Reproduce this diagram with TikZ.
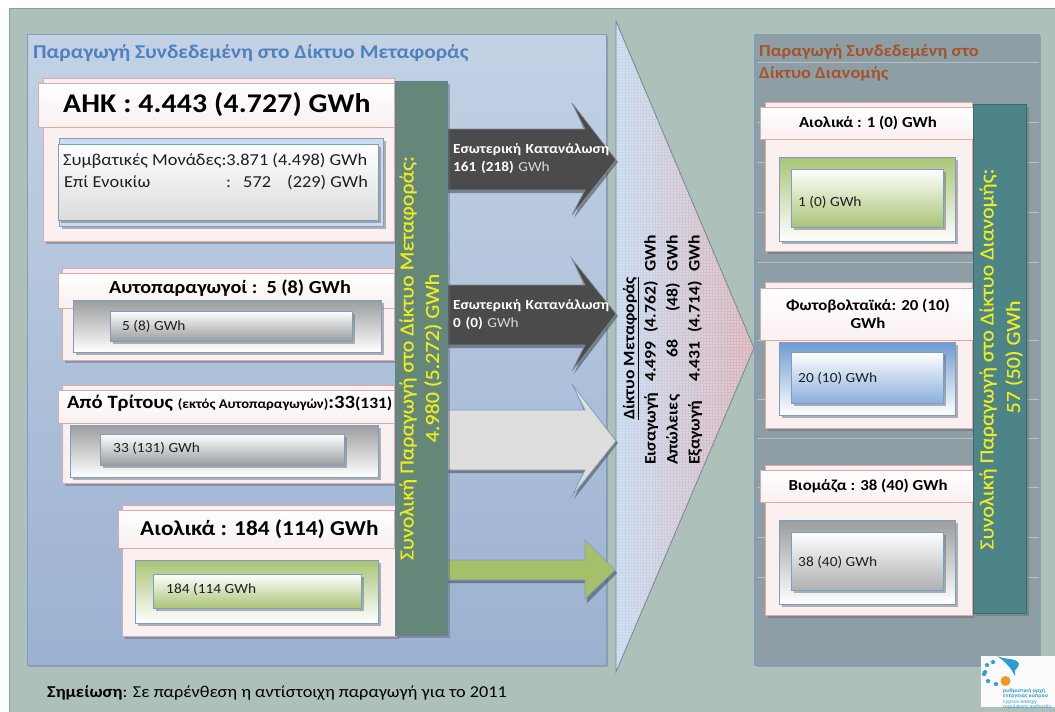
\documentclass[tikz,border=0pt]{standalone}
\usepackage{fontspec}
\setmainfont{Carlito}[FakeStretch=1.1]
\usetikzlibrary{patterns.meta,shapes.geometric}
\definecolor{bgc}{HTML}{ADC1BA}
\definecolor{edgeb}{HTML}{7F9DBF}
\definecolor{lefttop}{HTML}{C3D2E5}
\definecolor{leftbot}{HTML}{9CB1D1}
\definecolor{rightp}{HTML}{8D9FA5}
\definecolor{rosef}{HTML}{FAF0F0}
\definecolor{rosee}{HTML}{E0A9A9}
\definecolor{shad}{HTML}{7D8A96}
\definecolor{barl}{HTML}{65877A}
\definecolor{barr}{HTML}{4D8487}
\definecolor{yel}{HTML}{EDEC1E}
\definecolor{greyd}{HTML}{9A9C9E}
\definecolor{greenb}{HTML}{A9C476}
\definecolor{blueb}{HTML}{6E9BD3}
\definecolor{titleb}{HTML}{4F81BD}
\definecolor{titler}{HTML}{A5522B}
\definecolor{darka}{HTML}{4B4B4B}
\definecolor{lighta}{HTML}{DEDEDC}
\definecolor{greena}{HTML}{A5C069}
\definecolor{triL}{HTML}{C6D9EF}
\definecolor{triM}{HTML}{D3CEDF}
\definecolor{triR}{HTML}{D9B3B9}
\definecolor{logob}{HTML}{2E9BD6}
\definecolor{logoo}{HTML}{EE9A25}
\newcommand{\shadowed}[5]{%
  \fill[shad!80!black,opacity=.5] (#1+2.5,#2+2.5) rectangle (#3+2.5,#4+2.5);
  \draw[#5] (#1,#2) rectangle (#3,#4);}
\newcommand{\ls}[2]{{\addfontfeature{LetterSpace=#1}#2}}
\tikzset{
  outerbox/.style={fill=rosef,draw=rosee,line width=.8pt},
  headbox/.style={top color=white,bottom color=rosef,draw=rosee,line width=.8pt},
  thinblue/.style={draw=edgeb,line width=.8pt},
  txt/.style={inner sep=0pt,anchor=west,text=black!88},
  barlabel/.style={inner sep=0pt,rotate=90,text=yel,font=\fontsize{20}{21}\selectfont\addfontfeature{FakeBold=0.4},align=center},
  trilabel/.style={inner sep=0pt,rotate=90,anchor=west,font=\fontsize{16}{17}\selectfont\bfseries,text=black},
  arrowlabel/.style={inner sep=0pt,anchor=west,text=white,font=\fontsize{13.9}{18}\selectfont\bfseries},
  bigarrow/.style={draw=#1,line width=.7pt},
}
\begin{document}
\begin{tikzpicture}[x=1pt,y=-1pt]
\useasboundingbox (0,0) rectangle (1055,712);
\fill[white] (0,0) rectangle (1055,712);
% background
\fill[bgc] (9,8) rectangle (1055,712);
\draw[edgeb,line width=.8pt] (9,712) -- (9,8) -- (1055,8);
% left panel
\fill[shad,opacity=.6] (29,36) rectangle (608,667);
\draw[edgeb,line width=.8pt,top color=lefttop,bottom color=leftbot] (27,34) rectangle (606,665);
\node[inner sep=0pt,anchor=west,text=titleb,font=\fontsize{19.5}{20}\selectfont\bfseries] (lefttitle) at (33,53) {Παραγωγή Συνδεδεμένη στο Δίκτυο Μεταφοράς};
% right panel
\fill[shad,opacity=.6] (757,36) rectangle (1041,667);
\draw[edgeb,line width=.8pt,fill=rightp] (754,34) rectangle (1039,665);
\draw[edgeb,line width=.6pt] (757,34) -- (757,665);
\foreach \yy in {62,122,162,212,262,340,399,438,487,537,577}
  \draw[white,opacity=.35,line width=.7pt] (757,\yy) -- (1039,\yy);
\node[inner sep=0pt,anchor=west,text=titler,font=\fontsize{16.7}{22}\selectfont\bfseries,align=left] (righttitle) at (759,63) {Παραγωγή Συνδεδεμένη στο\\Δίκτυο Διανομής};
% triangle
\shade[left color=triL,middle color=triM,right color=triR] (616,21) -- (754,348) -- (616,672) -- cycle;
\fill[pattern={Dots[distance=3pt,radius=.6pt]},pattern color=white] (616,21) -- (754,348) -- (616,672) -- cycle;
\draw[shad,line width=.9pt] (616,21) -- (754,348) -- (616,672) -- cycle;
% arrows
\foreach \a/\b/\c/\d/\e/\col/\edgec in {103/129/160/190/215/darka/shad,259/285/314/345/371/darka/shad,384/410/441/470/496/lighta/edgeb}{
  \fill[shad!60!black,opacity=.6] (447,\b+3) -- (585,\b+3) -- (574,\a+3) -- (618,\c+2) -- (574,\e+3) -- (585,\d+3) -- (447,\d+3) -- cycle;
  \draw[bigarrow=\edgec,fill=\col] (447,\b) -- (585,\b) -- (572,\a) -- (616,\c) -- (572,\e) -- (585,\d) -- (447,\d) -- cycle;
}
\fill[shad!60!black,opacity=.6] (447,583) -- (587,583) -- (587,603) -- (617,573) -- (587,543) -- (587,563) -- (447,563) -- cycle;
\draw[bigarrow=edgeb,fill=greena] (447,560) -- (585,560) -- (585,540) -- (615,570) -- (585,599) -- (585,580) -- (447,580) -- cycle;
\node[arrowlabel,align=left,text width=165pt] (ek1) at (453,159) {Εσωτερική Κατανάλωση\\161 (218) {\mdseries\color{white!85!black}GWh}};
\node[arrowlabel,align=left,text width=165pt] (ek2) at (453,315) {Εσωτερική Κατανάλωση\\0 (0) {\mdseries\color{white!85!black}GWh}};
% triangle text
\node[trilabel] (t0) at (631,420) {\underline{Δίκτυο Μεταφοράς}};
\node[trilabel] (t1) at (651,465) {\makebox[83pt][l]{Εισαγωγή}\makebox[49pt][l]{4.499}\makebox[61pt][l]{(4.762)}GWh};
\node[trilabel] (t2) at (673,465) {\makebox[107pt][l]{Απώλειες}\makebox[46pt][l]{68}\makebox[40pt][l]{(48)}GWh};
\node[trilabel] (t3) at (695,465) {\makebox[83pt][l]{Εξαγωγή}\makebox[49pt][l]{4.431}\makebox[61pt][l]{(4.714)}GWh};
% AHK
\shadowed{43}{78}{394}{241}{outerbox}
\shadowed{59}{138}{383}{226}{thinblue,fill=lefttop!80!white}
\shadowed{58}{144}{378}{220}{thinblue,top color=white,bottom color=black!14}
\draw[headbox] (38,83) rectangle (394,127);
\node[txt,font=\fontsize{27}{27}\selectfont\bfseries,text=black] (ahk) at (63,105) {\ls{0.6}{ΑΗΚ : 4.443 (4.727) GWh}};
\node[txt,font=\fontsize{16.7}{18}\selectfont] (ahk1) at (63,161) {Συμβατικές Μονάδες:3.871 (4.498) GWh};
\node[txt,font=\fontsize{16.7}{18}\selectfont] (ahk2) at (64,183) {\makebox[162pt][l]{Επί Ενοικίω}\makebox[17pt][l]{:}\makebox[44pt][l]{572}(229) GWh};
% Autoparagogoi
\shadowed{62}{268}{394}{360}{outerbox}
\draw[headbox] (58,273) rectangle (394,308);
\shadowed{73}{300}{381}{352}{thinblue,top color=greyd,bottom color=white}
\shadowed{110}{311}{352}{341}{thinblue,top color=white,bottom color=greyd}
\node[txt,font=\fontsize{18.4}{19}\selectfont\bfseries,text=black] (auto) at (109,288) {Αυτοπαραγωγοί :\ \ 5 (8) GWh};
\node[txt,font=\fontsize{14}{15}\selectfont] (auto1) at (122,326) {5 (8) GWh};
% Apo Tritous
\shadowed{62}{385}{394}{483}{outerbox}
\draw[headbox] (58,390) rectangle (394,423);
\shadowed{70}{425}{378}{477}{thinblue,top color=greyd,bottom color=white}
\shadowed{100}{434}{344}{465}{thinblue,top color=white,bottom color=greyd}
\node[txt,font=\fontsize{18.8}{19}\selectfont\bfseries,text=black] (tri) at (67,403) {Από Τρίτους {\fontsize{13.3}{14}\selectfont(εκτός Αυτοπαραγωγών)}:33{\fontsize{15.8}{16}\selectfont(131)}};
\node[txt,font=\fontsize{14}{15}\selectfont] (tri1) at (113,448) {33 (131) GWh};
% Aiolika
\shadowed{122}{505}{396}{636}{outerbox}
\draw[headbox] (118,510) rectangle (394,548);
\shadowed{135}{560}{378}{623}{thinblue,top color=greenb,bottom color=white}
\shadowed{153}{574}{361}{608}{thinblue,top color=white,bottom color=greenb}
\node[txt,font=\fontsize{21.2}{22}\selectfont\bfseries,text=black] (aio) at (140,529) {Αιολικά : 184 (114) GWh};
\node[txt,font=\fontsize{14}{15}\selectfont] (aio1) at (166,589) {184 (114 GWh};
% left bar
\shadowed{395}{81}{447}{635}{fill=barl,draw=edgeb!80!black,line width=.7pt}
\node[barlabel] (barL1) at (408,358) {Συνολική Παραγωγή στο Δίκτυο Μεταφοράς:};
\node[barlabel] (barL2) at (433,358) {4.980 (5.272) GWh};
% right boxes
\shadowed{765}{102}{972}{251}{outerbox}
\draw[headbox] (760,107) rectangle (973,139);
\shadowed{779}{157}{955}{241}{thinblue,top color=greenb,bottom color=white}
\shadowed{791}{169}{943}{227}{thinblue,top color=white,bottom color=greenb}
\node[font=\fontsize{15.3}{16}\selectfont\bfseries,inner sep=0pt,text=black] (r1) at (868,123) {Αιολικά : 1 (0) GWh};
\node[txt,font=\fontsize{14}{15}\selectfont] (r1a) at (798,202) {1 (0) GWh};
\shadowed{765}{282}{972}{428}{outerbox}
\draw[headbox] (760,288) rectangle (973,340);
\shadowed{779}{342}{955}{415}{thinblue,top color=blueb,bottom color=white}
\shadowed{791}{352}{943}{403}{thinblue,top color=white,bottom color=blueb!80!white}
\node[font=\fontsize{15.3}{18}\selectfont\bfseries,inner sep=0pt,text=black,align=center] (r2) at (868,314) {Φωτοβολταϊκά: 20 (10)\\GWh};
\node[txt,font=\fontsize{14}{15}\selectfont] (r2a) at (798,378) {20 (10) GWh};
\shadowed{765}{465}{972}{615}{outerbox}
\draw[headbox] (760,470) rectangle (973,502);
\shadowed{779}{520}{955}{604}{thinblue,top color=greyd,bottom color=white}
\shadowed{791}{532}{943}{590}{thinblue,top color=white,bottom color=greyd!80!white}
\node[font=\fontsize{15.3}{16}\selectfont\bfseries,inner sep=0pt,text=black] (r3) at (868,486) {Βιομάζα : 38 (40) GWh};
\node[txt,font=\fontsize{14}{15}\selectfont] (r3a) at (798,562) {38 (40) GWh};
% right bar
\shadowed{973}{104}{1026}{613}{fill=barr,draw=barr!80!black,line width=.7pt}
\node[barlabel] (barR1) at (988,359) {Συνολική Παραγωγή στο Δίκτυο Διανομής:};
\node[barlabel] (barR2) at (1014,357) {57 (50) GWh};
% note
\node[txt,font=\fontsize{16.6}{17}\selectfont,text=black] (note) at (47,693) {\textbf{Σημείωση}: Σε παρένθεση η αντίστοιχη παραγωγή για το 2011};
% logo
\fill[white!97!gray] (981,656) rectangle (1055,707);
\fill[logob] (997,656) .. controls (1006,660) and (1014,658) .. (1018,662) .. controls (1020,664) and (1018,668) .. (1015,670) -- (1015,676) .. controls (1013,672) and (1009,664) .. (997,656) -- cycle;
\fill[logoo] (1005.5,681) circle (5pt);
\foreach \sx/\sy in {993/662,987/665,985/672,984/674,988/681,996/684}
  \node[star,star points=5,fill=logob,inner sep=0pt,minimum size=5pt] at (\sx,\sy) {};
\node[inner sep=0pt,anchor=north west,align=left,font=\fontsize{5.4}{5.6}\selectfont,text=logob] (logotext) at (1003,688) {\textbf{ρυθμιστική αρχή}\\\textbf{ενέργειας κύπρου}\\cyprus energy\\regulatory authority};
\end{tikzpicture}
\end{document}
